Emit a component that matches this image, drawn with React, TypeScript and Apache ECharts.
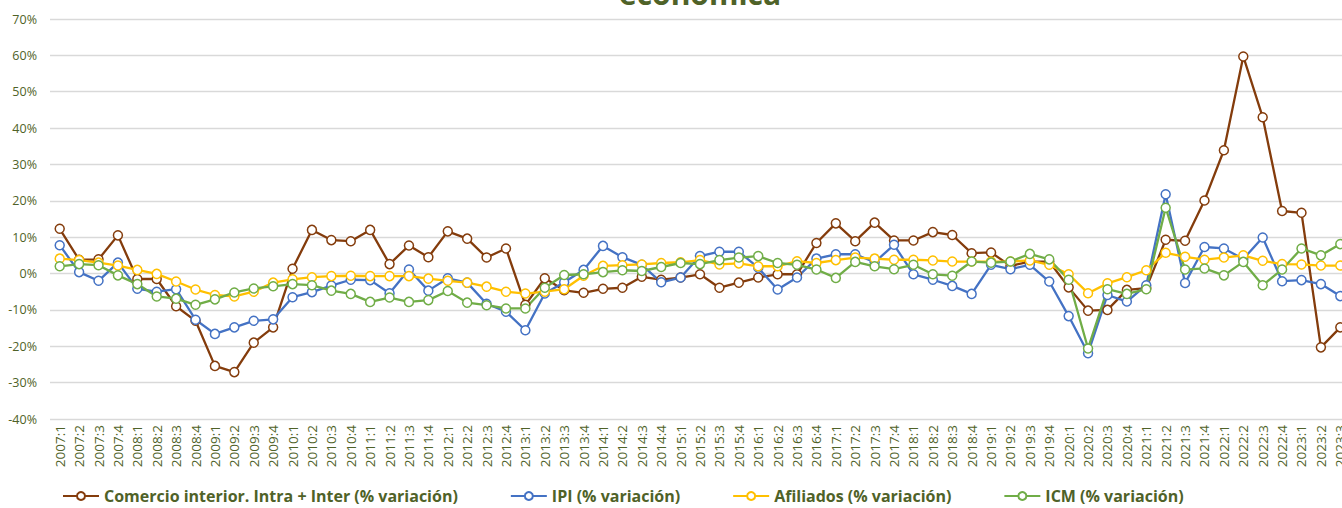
import React, { useEffect, useRef } from "react";
import * as echarts from "echarts";

const years = [2007, 2008, 2009, 2010, 2011, 2012, 2013, 2014, 2015, 2016, 2017, 2018, 2019, 2020, 2021, 2022, 2023];
const categories: string[] = [];
years.forEach((y) => {
  for (let q = 1; q <= 4; q++) {
    if (y === 2023 && q > 3) break;
    categories.push(`${y}:${q}`);
  }
});

const yTicks = { min: -40, max: 70, step: 10 };

const comercio = [
  12.3, 3.8, 3.9, 10.5, -1.5, -1.5, -9.0, -13.0, -25.4, -27.1, -19.0, -14.8,
  1.3, 12.0, 9.2, 8.9, 12.0, 2.6, 7.7, 4.5, 11.6, 9.6, 4.4, 6.9,
  -8.6, -1.3, -4.6, -5.3, -4.2, -3.9, -0.9, -1.7, -1.1, -0.2, -3.9, -2.5,
  -1.1, -0.2, -0.2, 8.4, 13.8, 8.9, 14.0, 9.1, 9.1, 11.4, 10.6, 5.6,
  5.8, 2.1, 3.3, 3.3, -3.8, -10.2, -10.0, -4.5, -4.0, 9.3, 9.0, 20.1,
  33.9, 59.7, 43.0, 17.2, 16.7, -20.3, -14.8,
];

const ipi = [
  7.8, 0.4, -2.0, 3.0, -4.2, -5.0, -4.3, -12.7, -16.6, -14.8, -13.0, -12.6,
  -6.5, -5.1, -3.3, -1.7, -1.8, -5.4, 1.1, -4.7, -1.3, -2.5, -8.3, -10.5,
  -15.6, -5.5, -2.4, 1.0, 7.6, 4.5, 2.4, -2.4, -1.1, 4.8, 6.0, 6.0,
  1.6, -4.4, -1.1, 4.1, 5.3, 5.3, 3.1, 7.9, -0.2, -1.7, -3.4, -5.6,
  2.4, 1.2, 2.4, -2.2, -11.7, -21.9, -5.9, -7.7, -3.2, 21.8, -2.6, 7.3,
  6.9, 4.0, 9.9, -2.1, -1.8, -2.9, -6.2,
];

const afiliados = [
  4.1, 3.7, 3.0, 2.2, 1.0, -0.1, -2.2, -4.4, -5.9, -6.3, -5.0, -2.5,
  -1.6, -1.0, -0.7, -0.6, -0.7, -0.7, -0.7, -1.4, -2.0, -2.5, -3.6, -5.0,
  -5.5, -5.0, -4.3, -0.6, 2.1, 2.3, 2.5, 2.9, 3.1, 3.7, 2.5, 2.8,
  2.0, 2.0, 3.4, 2.9, 3.7, 4.4, 4.1, 3.8, 3.8, 3.6, 3.3, 3.3,
  3.3, 3.3, 3.6, 2.4, -0.2, -5.4, -2.7, -1.0, 0.9, 5.7, 4.6, 3.8,
  4.4, 5.0, 3.5, 2.6, 2.5, 2.2, 2.2,
];

const icm = [
  2.0, 2.6, 2.3, -0.5, -2.9, -6.3, -6.9, -8.6, -7.1, -5.2, -4.1, -3.5,
  -2.9, -3.2, -4.7, -5.6, -7.8, -6.6, -7.8, -7.3, -4.8, -8.0, -8.7, -9.6,
  -9.6, -3.9, -0.4, -0.2, 0.4, 0.9, 0.7, 1.8, 2.9, 2.6, 3.7, 4.4,
  4.8, 2.9, 2.4, 1.1, -1.2, 3.2, 2.0, 1.2, 2.4, -0.2, -0.6, 3.3,
  3.0, 3.3, 5.4, 3.9, -1.7, -20.6, -4.3, -5.6, -4.3, 18.1, 1.1, 1.4,
  -0.5, 3.2, -3.2, 1.1, 6.9, 5.0, 8.1,
];

const seriesNames = [
  "Comercio interior. Intra + Inter (% variación)",
  "IPI (% variación)",
  "Afiliados (% variación)",
  "ICM (% variación)",
];
const seriesColors = ["#843C0C", "#4472C4", "#FFC000", "#70AD47"];
const seriesData = [comercio, ipi, afiliados, icm];

const titleText = "económica";
const textColor = "#4F6228";
const fontFamily = "'Open Sans', 'Noto Sans', sans-serif";

export default function App() {
  const ref = useRef<HTMLDivElement>(null);
  useEffect(() => {
    if (!ref.current) return;
    const chart = echarts.init(ref.current, null, { renderer: "svg" });
    chart.setOption({
      animation: false,
      backgroundColor: "#ffffff",
      textStyle: { fontFamily },
      graphic: [
        {
          type: "text",
          x: 700,
          y: 8,
          style: {
            text: titleText,
            fill: "#4F6228",
            font: `bold 30px ${fontFamily}`,
            textAlign: "center",
            textVerticalAlign: "bottom",
          },
        },
      ],
      grid: { left: 50, top: 19, width: 1300, height: 400, containLabel: false },
      legend: {
        left: 62,
        top: 488,
        padding: 0,
        itemWidth: 36,
        itemHeight: 10,
        itemGap: 52,
        textStyle: { color: textColor, fontWeight: "bold", fontSize: 16, fontFamily },
        data: seriesNames,
      },
      xAxis: {
        type: "category",
        data: categories,
        boundaryGap: true,
        axisLine: { show: false },
        axisTick: { show: false },
        axisLabel: { rotate: 90, interval: 0, color: textColor, fontSize: 13.5, margin: 6, fontFamily },
        splitLine: { show: false },
      },
      yAxis: {
        type: "value",
        min: yTicks.min,
        max: yTicks.max,
        interval: yTicks.step,
        axisLine: { show: false },
        axisTick: { show: false },
        axisLabel: { color: textColor, fontSize: 12.5, margin: 13, formatter: (v: number) => `${v}%`, fontFamily },
        splitLine: { lineStyle: { color: "#D9D9D9", width: 1.3 } },
      },
      series: seriesData.map((d, k) => ({
        name: seriesNames[k],
        type: "line",
        data: d,
        symbol: "circle",
        symbolSize: 9,
        showAllSymbol: true,
        lineStyle: { color: seriesColors[k], width: 2.3 },
        itemStyle: { color: "#ffffff", borderColor: seriesColors[k], borderWidth: 1.5 },
        emphasis: { disabled: true },
      })),
    });
    return () => chart.dispose();
  }, []);
  return (
    <div style={{ position: "absolute", left: 0, top: 0, width: 1342, height: 508, overflow: "hidden" }}>
      <div ref={ref} style={{ width: 1362, height: 508 }} />
    </div>
  );
}
